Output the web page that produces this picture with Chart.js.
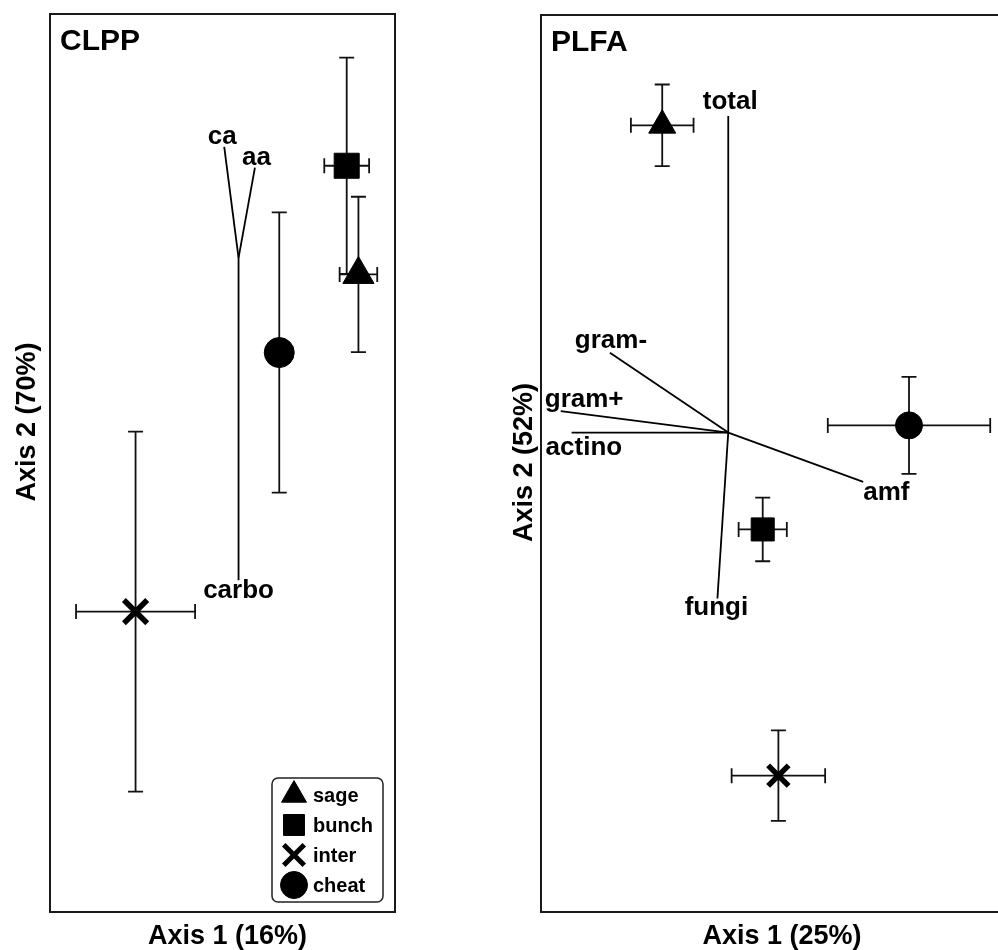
<!DOCTYPE html>
<html>
<head>
<meta charset="utf-8">
<script src="https://cdn.jsdelivr.net/npm/chart.js@4.4.0/dist/chart.umd.min.js"></script>
<style>
  html, body { margin: 0; padding: 0; background: #ffffff; overflow: hidden; width: 998px; height: 950px; position: relative; }
  #clpp { position: absolute; left: 0; top: 0; }
  #plfa { position: absolute; left: 470px; top: 0; }
</style>
</head>
<body>
<canvas id="clpp" width="470" height="950"></canvas>
<canvas id="plfa" width="600" height="950"></canvas>
<script>
// ---------------- DATA ----------------
const groups = ['sage', 'bunch', 'inter', 'cheat'];

// CLPP panel: group centroids and standard errors (ordination score units)
const clppX    = [0.788, 0.720, -0.504, 0.329];
const clppY    = [0.420, 0.662, -0.331, 0.246];
const clppErrX = [0.109, 0.130, 0.345, 0.030];
const clppErrY = [0.173, 0.241, 0.401, 0.312];
// CLPP vectors
const clppVectors = ['ca', 'aa', 'carbo'];
const clppVecX    = [0.010, 0.188, 0.093];
const clppVecY    = [0.704, 0.658, -0.261];
const clppOrigin  = [0.093, 0.457];

// PLFA panel
const plfaX    = [-0.497, -0.080, -0.015, 0.527];
const plfaY    = [0.754, -0.147, -0.696, 0.085];
const plfaErrX = [0.130, 0.100, 0.194, 0.337];
const plfaErrY = [0.091, 0.071, 0.101, 0.108];
// PLFA vectors
const plfaVectors = ['total', 'gram-', 'gram+', 'actino', 'amf', 'fungi'];
const plfaVecX    = [-0.223, -0.714, -0.918, -0.873, 0.337, -0.268];
const plfaVecY    = [0.775, 0.247, 0.117, 0.069, -0.041, -0.301];
const plfaOrigin  = [-0.223, 0.069];

// Axis titles / panel names
const panelNames = ['CLPP', 'PLFA'];
const xTitles = ['Axis 1 (16%)', 'Axis 1 (25%)'];
const yTitles = ['Axis 2 (70%)', 'Axis 2 (52%)'];
const axisRange = [-1, 1];

// ---------------- STYLE ----------------
const FONT = '"Liberation Sans", Arial, Helvetica, sans-serif';
const groupStyles = ['triangle', 'rect', 'crossRot', 'circle'];
const clppRadius = [18, 17.7, 16.5, 15];
const plfaRadius = [15.6, 16.3, 14.5, 13.5];
const legendRadius = [14.4, 14.8, 14.5, 13.5];

// label placement relative to vector tip (pixels): [dx, dy, align]
const clppLabelPlace = [[-2, -3, 'center'], [1.5, -3, 'center'], [0, 18, 'center']];
const plfaLabelPlace = [[2, -6.5, 'center'], [1, -4.5, 'center'], [-16, -4.5, 'left'],
                        [-26, 22, 'left'], [0, 18.5, 'left'], [-1, 17, 'center']];

// ---------------- PLUGIN ----------------
const panelPlugin = {
  id: 'panelDecor',
  beforeDatasetsDraw(chart) {
    const ctx = chart.ctx, xs = chart.scales.x, ys = chart.scales.y;
    ctx.save();
    ctx.strokeStyle = '#111';
    ctx.lineWidth = 1.8;
    const cap = 7.5;
    chart.data.datasets.forEach(ds => {
      if (!ds.isGroup) return;
      const p = ds.data[0];
      const px = xs.getPixelForValue(p.x), py = ys.getPixelForValue(p.y);
      const x1 = xs.getPixelForValue(p.x - ds.errX), x2 = xs.getPixelForValue(p.x + ds.errX);
      const y1 = ys.getPixelForValue(p.y + ds.errY), y2 = ys.getPixelForValue(p.y - ds.errY);
      ctx.beginPath();
      ctx.moveTo(x1, py); ctx.lineTo(x2, py);
      ctx.moveTo(x1, py - cap); ctx.lineTo(x1, py + cap);
      ctx.moveTo(x2, py - cap); ctx.lineTo(x2, py + cap);
      ctx.moveTo(px, y1); ctx.lineTo(px, y2);
      ctx.moveTo(px - cap, y1); ctx.lineTo(px + cap, y1);
      ctx.moveTo(px - cap, y2); ctx.lineTo(px + cap, y2);
      ctx.stroke();
    });
    ctx.restore();
  },
  afterDatasetsDraw(chart) {
    const o = chart.options.plugins.panelDecor;
    const ctx = chart.ctx, xs = chart.scales.x, ys = chart.scales.y;
    const a = chart.chartArea;
    ctx.save();
    ctx.fillStyle = '#000';
    // vector labels
    ctx.font = 'bold 26px ' + FONT;
    ctx.textBaseline = 'alphabetic';
    chart.data.datasets.forEach(ds => {
      if (!ds.isVector) return;
      const tip = ds.data[1];
      const pl = o.labelPlace[ds.vecIndex];
      ctx.textAlign = pl[2];
      ctx.fillText(ds.label, xs.getPixelForValue(tip.x) + pl[0], ys.getPixelForValue(tip.y) + pl[1]);
    });
    // panel name
    ctx.font = 'bold 30px ' + FONT;
    ctx.textAlign = 'left';
    ctx.fillText(o.name, a.left + 10, a.top + 36);
    // x title
    ctx.font = 'bold 27px ' + FONT;
    ctx.textAlign = 'center';
    ctx.fillText(o.xTitle, (a.left + a.right) / 2 + o.xTitleShift, a.bottom + 32);
    // y title
    ctx.save();
    ctx.translate(a.left - o.yTitleGap, (a.top + a.bottom) / 2 + o.yTitleShift);
    ctx.rotate(-Math.PI / 2);
    ctx.fillText(o.yTitle, 0, 0);
    ctx.restore();
    // frame
    ctx.strokeStyle = '#1a1a1a';
    ctx.lineWidth = 2;
    ctx.strokeRect(a.left, a.top, a.right - a.left, a.bottom - a.top);
    // legend
    if (o.legend) {
      const w = 111, h = 124;
      const bx = a.right - 12 - w, by = a.bottom - 10 - h;
      ctx.lineWidth = 1.5;
      ctx.strokeStyle = '#222';
      ctx.beginPath();
      if (ctx.roundRect) ctx.roundRect(bx, by, w, h, 6); else ctx.rect(bx, by, w, h);
      ctx.stroke();
      ctx.font = 'bold 20px ' + FONT;
      ctx.textAlign = 'left';
      ctx.textBaseline = 'middle';
      let row = 0;
      chart.data.datasets.forEach(ds => {
        if (!ds.isGroup) return;
        const cy = by + 17 + row * 30;
        const cx = bx + 22;
        ctx.fillStyle = '#000';
        ctx.strokeStyle = '#000';
        ctx.lineWidth = ds.pointStyle === 'crossRot' ? 5 : 1;
        const opts = { pointStyle: ds.pointStyle, rotation: 0, radius: legendRadius[row], borderWidth: ctx.lineWidth };
        if (Chart.helpers && Chart.helpers.drawPoint) {
          Chart.helpers.drawPoint(ctx, opts, cx, cy);
        }
        ctx.fillText(ds.label, bx + 41, cy + 1);
        row++;
      });
    }
    ctx.restore();
  }
};

function buildDatasets(xv, yv, ex, ey, radii, vecNames, vx, vy, origin) {
  const ds = groups.map((g, i) => ({
    label: g,
    isGroup: true,
    data: [{ x: xv[i], y: yv[i] }],
    errX: ex[i],
    errY: ey[i],
    pointStyle: groupStyles[i],
    pointRadius: radii[i],
    pointHoverRadius: radii[i],
    backgroundColor: '#000',
    borderColor: '#000',
    borderWidth: groupStyles[i] === 'crossRot' ? 5.5 : 1,
    order: 0
  }));
  vecNames.forEach((n, j) => {
    ds.push({
      label: n,
      isVector: true,
      vecIndex: j,
      data: [{ x: origin[0], y: origin[1] }, { x: vx[j], y: vy[j] }],
      showLine: true,
      pointRadius: 0,
      pointHoverRadius: 0,
      borderColor: '#000',
      borderWidth: 1.8,
      fill: false,
      order: 1
    });
  });
  return ds;
}

function makeChart(id, datasets, padding, decor) {
  return new Chart(document.getElementById(id), {
    type: 'scatter',
    data: { datasets },
    options: {
      responsive: false,
      animation: false,
      events: [],
      layout: { padding, autoPadding: false },
      scales: {
        x: { type: 'linear', min: axisRange[0], max: axisRange[1], display: false },
        y: { type: 'linear', min: axisRange[0], max: axisRange[1], display: false }
      },
      plugins: {
        legend: { display: false },
        tooltip: { enabled: false },
        panelDecor: decor
      }
    },
    plugins: [panelPlugin]
  });
}

makeChart('clpp',
  buildDatasets(clppX, clppY, clppErrX, clppErrY, clppRadius, clppVectors, clppVecX, clppVecY, clppOrigin),
  { left: 50, top: 14, right: 75, bottom: 38 },
  { name: panelNames[0], xTitle: xTitles[0], yTitle: yTitles[0], labelPlace: clppLabelPlace,
    xTitleShift: 5, yTitleGap: 15, yTitleShift: -41, legend: true });

makeChart('plfa',
  buildDatasets(plfaX, plfaY, plfaErrX, plfaErrY, plfaRadius, plfaVectors, plfaVecX, plfaVecY, plfaOrigin),
  { left: 71, top: 15, right: 47, bottom: 38 },
  { name: panelNames[1], xTitle: xTitles[1], yTitle: yTitles[1], labelPlace: plfaLabelPlace,
    xTitleShift: 0, yTitleGap: 9, yTitleShift: -1, legend: false });
</script>
</body>
</html>
